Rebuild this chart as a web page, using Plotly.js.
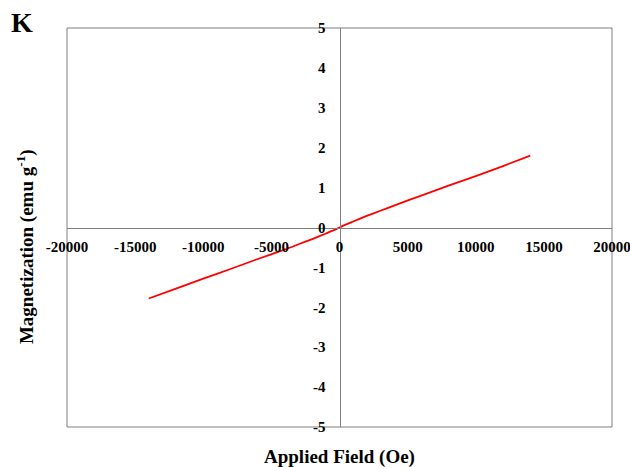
<!DOCTYPE html>
<html><head><meta charset="utf-8">
<script src="https://cdn.plot.ly/plotly-3.0.1.min.js"></script>
<style>body{margin:0;background:#fff}#chart{width:630px;height:467px}</style>
</head><body><div id="chart"></div>
<script>
const field = [-14000,-12000,-10000,-8000,-6000,-4000,-3000,-2000,-1000,-500,0,500,1000,2000,3000,4000,6000,8000,10000,12000,14000];
const magnetization = [-1.78,-1.53,-1.28,-1.04,-0.79,-0.55,-0.42,-0.29,-0.15,-0.08,0,0.08,0.15,0.29,0.42,0.55,0.80,1.05,1.29,1.54,1.80];
const xTicks = [-20000,-15000,-10000,-5000,0,5000,10000,15000,20000];
const yTicks = [-5,-4,-3,-2,-1,0,1,2,3,4,5];
const panelLabel = 'K';
const xTitle = 'Applied Field (Oe)';
const yTitle = 'Magnetization (emu g<sup>-1</sup>)';

const serif = '"Liberation Serif", "Times New Roman", serif';
const tickFont = {family: serif, size: 15, color: '#000', weight: 700};

Plotly.newPlot('chart', [{
  x: field, y: magnetization, mode: 'lines', type: 'scatter',
  line: {color: '#ff0000', width: 1.8, shape: 'spline', smoothing: 0.6}, hoverinfo: 'skip'
}], {
  width: 630, height: 467,
  margin: {l: 67, r: 18, t: 28, b: 40},
  font: {family: serif, color: '#000'},
  paper_bgcolor: '#fff', plot_bgcolor: '#fff',
  showlegend: false,
  xaxis: {
    range: [-20000, 20000], tickvals: xTicks, ticktext: xTicks.map(String),
    anchor: 'free', position: 0.5, showgrid: false, zeroline: false,
    showline: true, linecolor: '#7f7f7f', linewidth: 1, ticks: '',
    ticklabelstandoff: 5, ticklabeloverflow: 'allow',
    tickfont: tickFont, fixedrange: true
  },
  yaxis: {
    range: [-5, 5], tickvals: yTicks, ticktext: yTicks.map(String),
    anchor: 'free', position: 0.5, showgrid: false, zeroline: false,
    showline: true, linecolor: '#7f7f7f', linewidth: 1, ticks: '',
    ticklabelstandoff: 11, ticklabeloverflow: 'allow',
    tickfont: tickFont, fixedrange: true
  },
  shapes: [{type: 'rect', xref: 'paper', yref: 'paper', x0: 0, x1: 1, y0: 0, y1: 1,
    line: {color: '#7f7f7f', width: 1}, layer: 'below'}],
  annotations: [
    {text: '<b>' + panelLabel + '</b>', xref: 'paper', yref: 'paper', x: -0.0826, y: 1.013,
     xanchor: 'center', yanchor: 'middle', showarrow: false,
     font: {family: serif, size: 28, color: '#000'}},
    {text: '<b>' + xTitle + '</b>', xref: 'paper', yref: 'paper', x: 0.5, y: -0.076,
     xanchor: 'center', yanchor: 'middle', showarrow: false,
     font: {family: serif, size: 19, color: '#000'}},
    {text: '<b>' + yTitle + '</b>', xref: 'paper', yref: 'paper', x: -0.077, y: 0.451,
     xanchor: 'center', yanchor: 'middle', showarrow: false, textangle: -90,
     font: {family: serif, size: 19, color: '#000'}}
  ]
}, {staticPlot: true});
</script></body></html>
